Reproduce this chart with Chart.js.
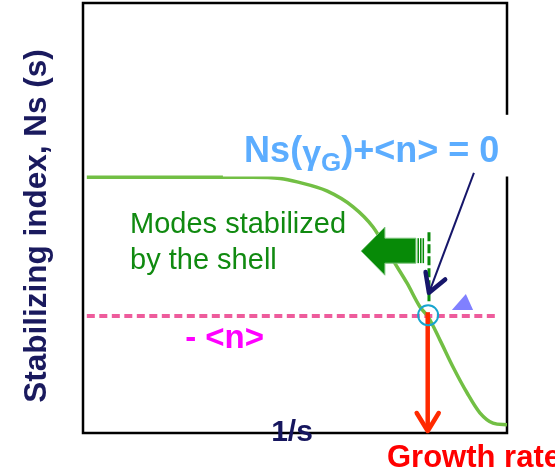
<!DOCTYPE html>
<html>
<head>
<meta charset="utf-8">
<script src="https://cdn.jsdelivr.net/npm/chart.js@4"></script>
<style>
html,body{margin:0;padding:0;background:#fff;}
#wrap{width:555px;height:470px;}
</style>
</head>
<body>
<div id="wrap"><canvas id="c" width="555" height="470"></canvas></div>
<script>
// Stabilizing index curve Ns(s) vs 1/s (arbitrary units, 0-100)
const curveX = [0.9, 40.0, 46.5, 50.5, 57.5, 63.7, 68.4, 73.1, 76.4, 79.5, 81.4, 84.2, 87.3, 90.6, 93.6, 96.7, 100];
const curveY = [59.5, 59.5, 59.2, 58.4, 56.3, 52.6, 47.9, 40.2, 34.9, 29.3, 27.0, 21.6, 15.3, 9.3, 4.7, 2.3, 1.9];
// -<n> level (dashed)
const nLevelX = [0.9, 97.6];
const nLevelY = [27.2, 27.2];
// intersection Ns(gamma_G) + <n> = 0  -> growth rate
const growthRate = 81.3;
const intersectY = 27.4;

const labels = {
  yTitle: 'Stabilizing index, Ns (s)',
  xTitle: '1/s',
  growth: 'Growth rate',
  modes1: 'Modes stabilized',
  modes2: 'by the shell',
  nbar: '- <n>'
};

const FONT = '"Liberation Sans", Arial, sans-serif';

const annot = {
  id: 'annot',
  beforeDatasetsDraw(chart) {
    const {ctx, chartArea: a} = chart;
    ctx.save();
    ctx.strokeStyle = '#000';
    ctx.lineWidth = 2.5;
    ctx.strokeRect(a.left, a.top, a.right - a.left, a.bottom - a.top);
    ctx.restore();
  },
  afterDatasetsDraw(chart) {
    const {ctx, chartArea: a, scales} = chart;
    const X = v => scales.x.getPixelForValue(v);
    const Y = v => scales.y.getPixelForValue(v);
    ctx.save();

    // white box behind the equation
    ctx.fillStyle = '#fff';
    ctx.fillRect(X(33.0), Y(74.0), X(101.5) - X(33.0), Y(59.65) - Y(74.0));

    // green dashed vertical marker
    ctx.strokeStyle = '#0A8A0A';
    ctx.lineWidth = 3;
    ctx.setLineDash([9, 3]);
    ctx.beginPath();
    ctx.moveTo(X(81.6), Y(46.7));
    ctx.lineTo(X(81.6), Y(30.2));
    ctx.stroke();
    ctx.setLineDash([]);

    // green block arrow pointing left
    ctx.fillStyle = '#078A07';
    ctx.strokeStyle = '#7CC47C';
    ctx.lineWidth = 1;
    ctx.beginPath();
    ctx.moveTo(X(65.6), Y(42.3));
    ctx.lineTo(X(71.2), Y(47.9));
    ctx.lineTo(X(71.2), Y(45.3));
    ctx.lineTo(X(78.5), Y(45.3));
    ctx.lineTo(X(78.5), Y(39.5));
    ctx.lineTo(X(71.2), Y(39.5));
    ctx.lineTo(X(71.2), Y(36.7));
    ctx.closePath();
    ctx.fill();
    ctx.stroke();
    [79.05, 79.65, 80.25].forEach(sx => {
      ctx.fillRect(X(sx) - 0.7, Y(45.3), 1.5, Y(39.5) - Y(45.3));
    });

    // navy arrow
    const ax0 = X(92.2), ay0 = Y(60.5), ax1 = X(81.6), ay1 = Y(32.6);
    ctx.strokeStyle = '#16166A';
    ctx.lineWidth = 2;
    ctx.beginPath();
    ctx.moveTo(ax0, ay0);
    ctx.lineTo(ax1, ay1);
    ctx.stroke();
    const ang = Math.atan2(ay0 - ay1, ax0 - ax1);
    ctx.lineWidth = 4.5;
    ctx.lineCap = 'round';
    ctx.lineJoin = 'round';
    ctx.beginPath();
    ctx.moveTo(ax1 + 21 * Math.cos(ang - 0.52), ay1 + 21 * Math.sin(ang - 0.52));
    ctx.lineTo(ax1, ay1);
    ctx.lineTo(ax1 + 21 * Math.cos(ang + 0.52), ay1 + 21 * Math.sin(ang + 0.52));
    ctx.stroke();

    // blue triangle
    ctx.fillStyle = '#8080FF';
    ctx.beginPath();
    ctx.moveTo(X(87.0), Y(28.6));
    ctx.lineTo(X(92.0), Y(28.6));
    ctx.lineTo(X(90.3), Y(32.3));
    ctx.closePath();
    ctx.fill();

    // red growth-rate arrow
    const rx = X(growthRate);
    ctx.strokeStyle = '#FF2A00';
    ctx.lineWidth = 4.5;
    ctx.lineCap = 'butt';
    ctx.beginPath();
    ctx.moveTo(rx, Y(28.1));
    ctx.lineTo(rx, Y(0) - 3);
    ctx.stroke();
    ctx.lineCap = 'round';
    ctx.beginPath();
    ctx.moveTo(rx - 11, Y(0) - 20);
    ctx.lineTo(rx, Y(0) - 2);
    ctx.lineTo(rx + 11, Y(0) - 20);
    ctx.stroke();

    // cyan circle at intersection
    ctx.strokeStyle = '#17A5CF';
    ctx.lineWidth = 2;
    ctx.beginPath();
    ctx.arc(X(growthRate + 0.1), Y(intersectY), 10, 0, Math.PI * 2);
    ctx.stroke();

    // texts
    ctx.textBaseline = 'alphabetic';
    ctx.textAlign = 'left';
    ctx.fillStyle = '#108A10';
    ctx.font = '29px ' + FONT;
    ctx.fillText(labels.modes1, X(11.1), Y(46.5));
    ctx.fillText(labels.modes2, X(11.1), Y(38.1));

    ctx.fillStyle = '#FF00FF';
    ctx.font = 'bold 33px ' + FONT;
    ctx.fillText(labels.nbar, X(24.1), Y(19.8));

    // equation
    ctx.fillStyle = '#5CADFF';
    let ex = X(38.0);
    const ey = Y(63.0);
    const parts = [
      ['Ns(', 'bold 36px ' + FONT, 0],
      ['\u03B3', 'bold 34px ' + FONT, 2],
      ['G', 'bold 26px ' + FONT, 9],
      [')+<n> = 0', 'bold 36px ' + FONT, 0]
    ];
    parts.forEach(([t, f, dy]) => {
      ctx.font = f;
      ctx.fillText(t, ex, ey + dy);
      ex += ctx.measureText(t).width;
    });

    ctx.fillStyle = '#16165E';
    ctx.font = 'bold 30px ' + FONT;
    ctx.textAlign = 'center';
    ctx.fillText(labels.xTitle, X(49.3), Y(-1.9));

    ctx.fillStyle = '#FF0000';
    ctx.textAlign = 'left';
    ctx.font = 'bold 31px ' + FONT;
    ctx.fillText(labels.growth, X(71.7), Y(-7.9));

    // y-axis title
    ctx.save();
    ctx.translate(a.left - 46, (a.top + a.bottom) / 2 + 8);
    ctx.rotate(-Math.PI / 2);
    ctx.textAlign = 'center';
    ctx.textBaseline = 'middle';
    ctx.fillStyle = '#1A1A5E';
    ctx.font = 'bold 31.5px ' + FONT;
    ctx.fillText(labels.yTitle, 0, 0);
    ctx.restore();

    ctx.restore();
  }
};

new Chart(document.getElementById('c'), {
  type: 'line',
  data: {
    datasets: [
      {
        data: curveX.map((x, i) => ({x, y: curveY[i]})),
        borderColor: '#72BF44',
        borderWidth: 3.5,
        pointRadius: 0,
        cubicInterpolationMode: 'monotone',
        fill: false
      },
      {
        data: nLevelX.map((x, i) => ({x, y: nLevelY[i]})),
        borderColor: '#EE5C9C',
        borderWidth: 4,
        borderDash: [8, 4.5],
        pointRadius: 0,
        fill: false
      }
    ]
  },
  options: {
    responsive: false,
    animation: false,
    devicePixelRatio: 1,
    layout: {padding: {left: 83, right: 48, top: 3, bottom: 37}},
    plugins: {legend: {display: false}, tooltip: {enabled: false}, title: {display: false}},
    scales: {
      x: {type: 'linear', min: 0, max: 100, display: false},
      y: {type: 'linear', min: 0, max: 100, display: false}
    }
  },
  plugins: [annot]
});
</script>
</body>
</html>
